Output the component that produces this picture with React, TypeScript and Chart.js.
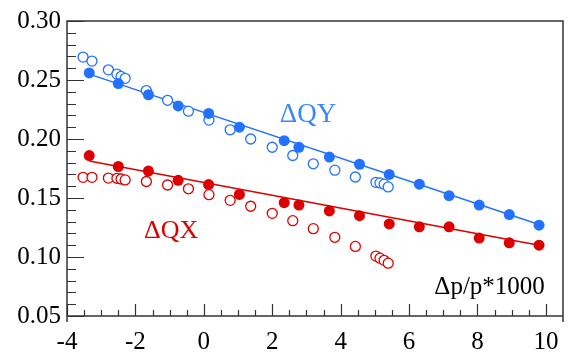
import React, { useEffect, useRef } from "react";
import { Chart, registerables } from "chart.js";
Chart.register(...registerables);

// Δp/p*1000 positions of the measurements
const filledX = [-3.35, -2.5, -1.62, -0.75, 0.14, 1.04, 2.35, 2.78, 3.67, 4.55, 5.42, 6.3, 7.17, 8.05, 8.93, 9.8];
const blueFilledY = [0.256, 0.247, 0.2375, 0.228, 0.2217, 0.21, 0.1986, 0.193, 0.1847, 0.1786, 0.17, 0.1617, 0.152, 0.144, 0.136, 0.127];
const redFilledY = [0.186, 0.1767, 0.1728, 0.165, 0.1614, 0.153, 0.146, 0.144, 0.139, 0.135, 0.128, 0.1256, 0.1256, 0.116, 0.112, 0.11];

const openX = [-3.53, -3.27, -2.79, -2.54, -2.42, -2.3, -1.68, -1.06, -0.45, 0.15, 0.77, 1.37, 2.0, 2.6, 3.2, 3.83, 4.43, 5.03, 5.15, 5.27, 5.39];
const blueOpenY = [0.2694, 0.266, 0.2586, 0.255, 0.253, 0.2514, 0.241, 0.2328, 0.2236, 0.216, 0.2078, 0.2, 0.193, 0.186, 0.179, 0.1736, 0.1678, 0.1633, 0.1628, 0.1617, 0.1594];
const redOpenY = [0.1675, 0.1675, 0.1669, 0.1667, 0.1661, 0.1653, 0.164, 0.161, 0.1578, 0.1528, 0.148, 0.143, 0.137, 0.1308, 0.124, 0.1167, 0.109, 0.1008, 0.099, 0.0972, 0.0948];

// linear fits through the filled points
const fitX = [-3.35, 9.8];
const blueFitY = [0.255, 0.1275];
const redFitY = [0.1814, 0.11];

const xTicks = [-4, -2, 0, 2, 4, 6, 8, 10];
const yTicks = [0.05, 0.1, 0.15, 0.2, 0.25, 0.3];

const BLUE = "#2272ff";
const RED = "#dd0000";
const FONT = "'Liberation Serif', 'DejaVu Serif', serif";

const pts = (xs: number[], ys: number[]) => xs.map((x, i) => ({ x, y: ys[i] }));

const framePlugin = {
  id: "frame",
  afterDraw(chart: any) {
    const { ctx, chartArea: ca } = chart;
    const xs = chart.scales.x;
    const ys = chart.scales.y;
    ctx.save();
    ctx.strokeStyle = "#333";
    ctx.lineWidth = 1.5;
    ctx.beginPath();
    ctx.moveTo(ca.left, ca.bottom + 6);
    ctx.lineTo(ca.left, ca.top);
    ctx.lineTo(ca.right, ca.top);
    ctx.lineTo(ca.right, ca.bottom + 6);
    ctx.moveTo(ca.left, ca.bottom);
    ctx.lineTo(ca.right, ca.bottom);
    ctx.stroke();
    ctx.lineWidth = 1.2;
    ctx.beginPath();
    for (let i = 0; i <= 28; i++) {
      const v = -4 + i * 0.5;
      const px = Math.round(xs.getPixelForValue(v)) + 0.5;
      const len = i % 4 === 0 ? 12 : 6;
      ctx.moveTo(px, ca.bottom);
      ctx.lineTo(px, ca.bottom - len);
    }
    for (let i = 0; i <= 25; i++) {
      const v = 0.05 + i * 0.01;
      const py = Math.round(ys.getPixelForValue(v)) + 0.5;
      const len = i % 5 === 0 ? 17 : 9;
      ctx.moveTo(ca.left, py);
      ctx.lineTo(ca.left + len, py);
    }
    ctx.stroke();

    ctx.font = `27px ${FONT}`;
    ctx.textBaseline = "alphabetic";
    ctx.textAlign = "left";
    ctx.fillStyle = "#3a86ff";
    ctx.fillText("ΔQY", xs.getPixelForValue(2.22), ys.getPixelForValue(0.2145));
    ctx.fillStyle = RED;
    ctx.font = `26px ${FONT}`;
    ctx.fillText("ΔQX", xs.getPixelForValue(-1.75), ys.getPixelForValue(0.1165));
    ctx.fillStyle = "#000";
    ctx.textAlign = "right";
    ctx.font = `25px ${FONT}`;
    ctx.fillText("Δp/p*1000", xs.getPixelForValue(9.97), ys.getPixelForValue(0.069));
    ctx.restore();
  },
};

export default function App() {
  const ref = useRef<HTMLCanvasElement>(null);
  useEffect(() => {
    if (!ref.current) return;
    const chart = new Chart(ref.current, {
      type: "scatter",
      data: {
        datasets: [
          {
            data: pts(fitX, blueFitY),
            showLine: true,
            borderColor: BLUE,
            borderWidth: 1.5,
            pointRadius: 0,
            order: 5,
          },
          {
            data: pts(fitX, redFitY),
            showLine: true,
            borderColor: RED,
            borderWidth: 1.5,
            pointRadius: 0,
            order: 5,
          },
          {
            data: pts(openX, blueOpenY),
            pointRadius: 5,
            pointBorderWidth: 1.3,
            borderColor: BLUE,
            backgroundColor: "#fff",
            order: 3,
          },
          {
            data: pts(openX, redOpenY),
            pointRadius: 5,
            pointBorderWidth: 1.3,
            borderColor: RED,
            backgroundColor: "#fff",
            order: 3,
          },
          {
            data: pts(filledX, blueFilledY),
            pointRadius: 5.5,
            pointBorderWidth: 0,
            borderColor: BLUE,
            backgroundColor: BLUE,
            order: 1,
          },
          {
            data: pts(filledX, redFilledY),
            pointRadius: 5.5,
            pointBorderWidth: 0,
            borderColor: RED,
            backgroundColor: RED,
            order: 1,
          },
        ],
      },
      options: {
        animation: false,
        responsive: false,
        devicePixelRatio: 1,
        layout: { padding: { top: 16, right: 18, left: 0, bottom: 0 } },
        plugins: { legend: { display: false }, tooltip: { enabled: false } },
        scales: {
          x: {
            type: "linear",
            min: -4,
            max: 10.5,
            grid: { display: false, drawTicks: false },
            border: { display: false },
            ticks: { font: { family: FONT, size: 25 }, color: "#000", padding: 11 },
            afterBuildTicks: (s: any) => {
              s.ticks = xTicks.map((v) => ({ value: v }));
            },
            afterFit: (s: any) => {
              s.height = 36;
            },
          },
          y: {
            type: "linear",
            min: 0.05,
            max: 0.3,
            grid: { display: false, drawTicks: false },
            border: { display: false },
            ticks: {
              font: { family: FONT, size: 25 },
              color: "#000",
              padding: 6,
              callback: (v: any) => Number(v).toFixed(2),
            },
            afterBuildTicks: (s: any) => {
              s.ticks = yTicks.map((v) => ({ value: v }));
            },
            afterFit: (s: any) => {
              s.width = 67;
            },
          },
        },
      },
      plugins: [framePlugin],
    });
    return () => chart.destroy();
  }, []);
  return (
    <div style={{ position: "fixed", left: 0, top: 0, width: 581, height: 352, background: "#fff" }}>
      <canvas ref={ref} width={581} height={352} style={{ width: 581, height: 352 }} />
    </div>
  );
}
